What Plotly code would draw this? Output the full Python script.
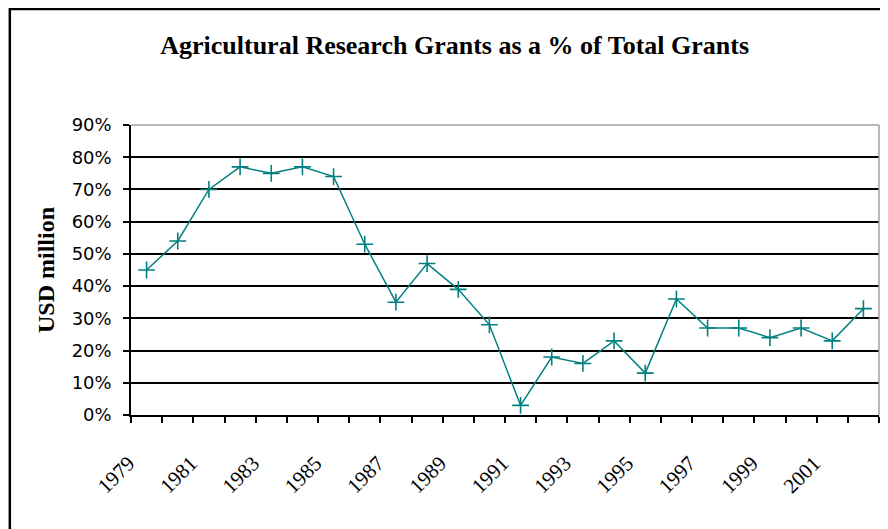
import plotly.graph_objects as go

# --- data ------------------------------------------------------------------

years = list(range(1979, 2003))
share = [0.45, 0.54, 0.70, 0.77, 0.75, 0.77, 0.74, 0.53, 0.35, 0.47,
         0.39, 0.28, 0.03, 0.18, 0.16, 0.23, 0.13, 0.36, 0.27, 0.27,
         0.24, 0.27, 0.23, 0.33]
label_years = list(range(1979, 2003, 2))
y_ticks = [i / 10 for i in range(10)]

TEAL = "#008080"
SERIF = "Liberation Serif, Times New Roman, serif"
SANS = "DejaVu Sans, Tahoma, sans-serif"

fig = go.Figure(
    go.Scatter(
        x=years,
        y=share,
        mode="lines+markers",
        line={"color": TEAL, "width": 1.5},
        marker={"symbol": "cross-thin", "size": 12, "line": {"color": TEAL, "width": 1.6}},
        showlegend=False,
        hoverinfo="skip",
    )
)

fig.update_layout(
    width=888,
    height=529,
    paper_bgcolor="white",
    plot_bgcolor="white",
    # page body adds ~8px offset, so margins are shifted accordingly
    margin={"l": 123, "r": 17, "t": 117, "b": 122},
    title={
        "text": "<b>Agricultural Research Grants as a % of Total Grants</b>",
        "font": {"family": SERIF, "size": 26, "color": "black"},
        "x": 0.503,
        "xref": "container",
        "xanchor": "center",
        "y": 0.93,
        "yref": "container",
        "yanchor": "middle",
    },
    xaxis={
        "range": [1978.5, 2002.5],
        "tickmode": "array",
        "tickvals": label_years,
        "ticktext": [str(y) for y in label_years],
        "ticks": "",
        "tickangle": -45,
        "tickfont": {"family": SERIF, "size": 21, "color": "black"},
        "ticklabelstandoff": 26,
        "ticklabelshift": -18,
        "showgrid": False,
        "zeroline": False,
        "showline": True,
        "linecolor": "black",
        "linewidth": 1.5,
        "minor": {
            "tickmode": "linear",
            "tick0": 1978.5,
            "dtick": 1,
            "ticks": "outside",
            "ticklen": 6,
            "tickcolor": "black",
            "tickwidth": 1.5,
            "showgrid": False,
        },
    },
    yaxis={
        "range": [0, 0.9],
        "tickmode": "array",
        "tickvals": y_ticks,
        "tickformat": ".0%",
        "ticks": "outside",
        "ticklen": 6,
        "tickcolor": "black",
        "tickwidth": 1.5,
        "tickfont": {"family": SANS, "size": 18, "color": "black"},
        "ticklabelstandoff": 8,
        "showgrid": True,
        "gridcolor": "black",
        "gridwidth": 1.8,
        "zeroline": False,
        "showline": True,
        "linecolor": "black",
        "linewidth": 1.5,
        "title": {
            "text": "<b>USD million</b>",
            "font": {"family": SERIF, "size": 24, "color": "black"},
            "standoff": 10,
        },
    },
    shapes=[
        # light gray top / right plot border
        {"type": "line", "xref": "paper", "yref": "paper", "x0": 0, "x1": 1, "y0": 1, "y1": 1,
         "line": {"color": "#a0a0a0", "width": 1.5}, "layer": "above"},
        {"type": "line", "xref": "paper", "yref": "paper", "x0": 1, "x1": 1, "y0": 0, "y1": 1,
         "line": {"color": "#a0a0a0", "width": 1.5}, "layer": "above"},
        # outer chart frame (right and bottom edges fall outside the window)
        {"type": "rect", "xref": "paper", "yref": "paper", "x0": -0.162, "x1": 1.2,
         "y0": -0.6, "y1": 1.4, "line": {"color": "black", "width": 2.5}, "layer": "below"},
    ],
)

fig.write_html("out.html")
